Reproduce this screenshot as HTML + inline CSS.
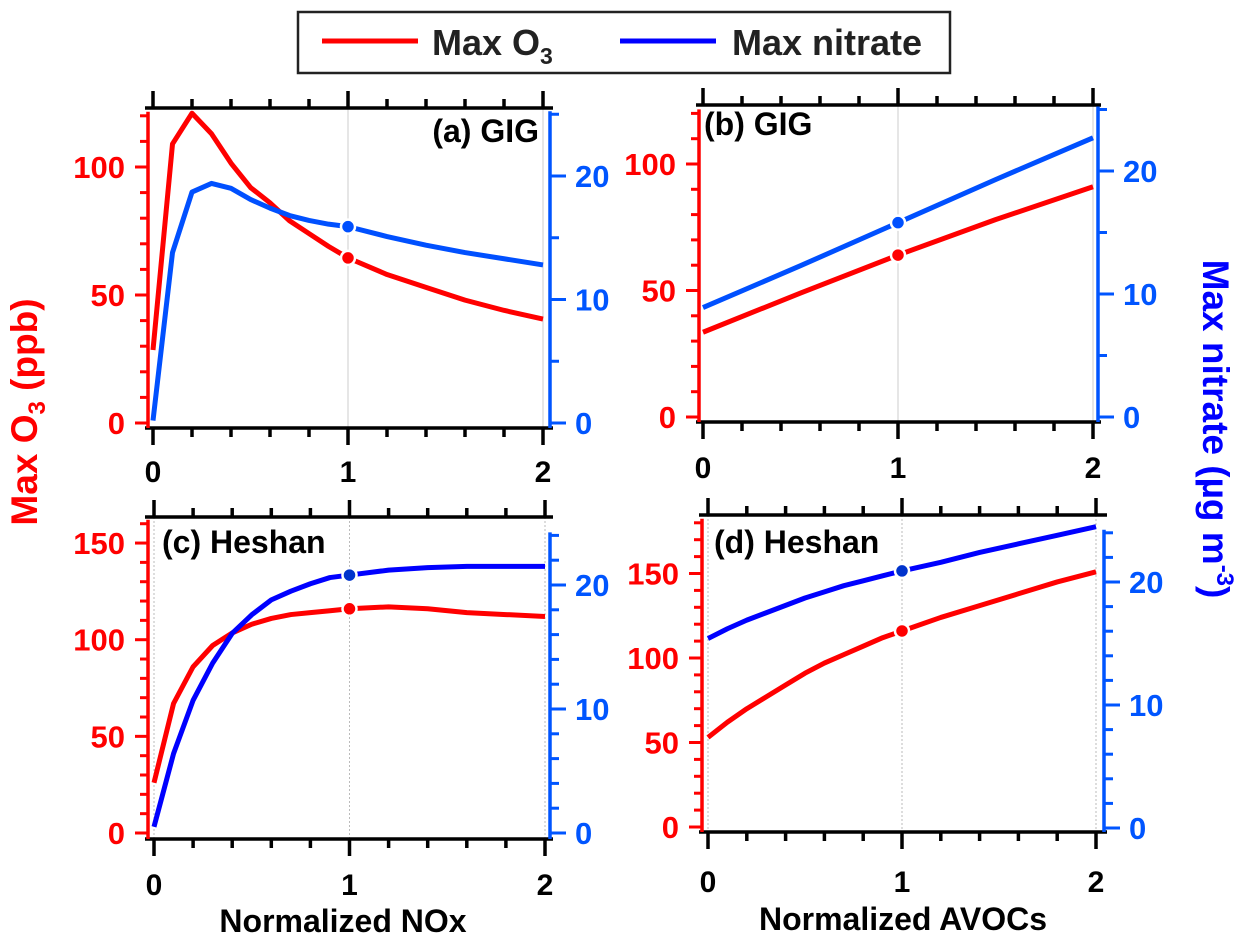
<!DOCTYPE html>
<html><head><meta charset="utf-8"><style>
html,body{margin:0;padding:0;background:#fff;}
svg{display:block;font-family:"Liberation Sans",Arial,sans-serif;font-weight:bold;}
</style></head><body>
<svg id="chart" width="1248" height="943" viewBox="0 0 1248 943" xmlns="http://www.w3.org/2000/svg">
<g>
<rect x="298" y="12" width="652" height="61" fill="#fff" stroke="#222" stroke-width="2.5"/>
<line x1="322" y1="41" x2="418" y2="41" stroke="#ff0000" stroke-width="5"/>
<text x="432" y="55" font-size="36" fill="#222">Max O<tspan font-size="23" dy="9">3</tspan></text>
<line x1="620" y1="41" x2="716" y2="41" stroke="#0000ff" stroke-width="5"/>
<text x="732" y="55" font-size="36" fill="#222">Max nitrate</text>
</g>
<text transform="translate(37,412) rotate(-90)" text-anchor="middle" font-size="37" fill="#ff0000">Max O<tspan font-size="24" dy="8">3</tspan><tspan dy="-8"> (ppb)</tspan></text>
<text transform="translate(1203,429) rotate(90)" text-anchor="middle" font-size="37" fill="#0000ff">Max nitrate (µg m<tspan font-size="24" dy="-14">-3</tspan><tspan dy="14">)</tspan></text>
<text x="343" y="932" text-anchor="middle" font-size="32" fill="#000">Normalized NOx</text>
<text x="903" y="930" text-anchor="middle" font-size="32" fill="#000">Normalized AVOCs</text>
</svg>
<script>
const xA = [0,0.1,0.2,0.3,0.4,0.5,0.6,0.7,0.8,0.9,1.0,1.2,1.4,1.6,1.8,2.0];
const o3A = [28.5,109,121,113,101.5,92,86,79,74,69,64.5,58,53,48,44,40.6];
const no3A = [0.2,13.8,18.7,19.4,19.0,18.1,17.4,16.8,16.4,16.1,15.9,15.1,14.4,13.8,13.3,12.8];
const xB = [0,0.5,1.0,1.5,2.0];
const o3B = [33.5,49,64,78,91];
const no3B = [8.9,12.3,15.8,19.3,22.7];
const xC = [0,0.1,0.2,0.3,0.4,0.5,0.6,0.7,0.8,0.9,1.0,1.2,1.4,1.6,1.8,2.0];
const o3C = [26,67,86,97,103.5,108,111,113,114,115,116,117,116,114,113,112];
const no3C = [0.5,6.4,10.7,13.7,16.1,17.6,18.8,19.5,20.1,20.6,20.8,21.2,21.4,21.5,21.5,21.5];
const xD = [0,0.1,0.2,0.3,0.4,0.5,0.6,0.7,0.8,0.9,1.0,1.2,1.4,1.6,1.8,2.0];
const o3D = [53,62,70,77,84,91,97,102,107,112,116,124,131,138,145,151];
const no3D = [15.4,16.2,16.9,17.5,18.1,18.7,19.2,19.7,20.1,20.5,20.9,21.6,22.4,23.1,23.8,24.5];
const xTickLabels = ["0","1","2"];
const leftTickLabelsAB = [0,50,100];
const leftTickLabelsCD = [0,50,100,150];
const rightTickLabels = [0,10,20];
const panelTitles = ["(a) GIG","(b) GIG","(c) Heshan","(d) Heshan"];

const NS="http://www.w3.org/2000/svg";
const svg=document.getElementById('chart');
function mk(tag,attrs,parent){const e=document.createElementNS(NS,tag);for(const k in attrs)e.setAttribute(k,attrs[k]);(parent||svg).appendChild(e);return e;}

const panels=[
 {L:148,R:550,T:108,B:428,x0:153,x2:543,ly0:423,lk:2.56,lmax:120,lstep:10,ry0:423,rk:12.35,rmax:25,rstep:5,xs:xA,o3:o3A,no3:no3A,labels:leftTickLabelsAB,title:0,tx:539,ty:142,anchor:'end',blue:'#0050ff',mblue:'#0050ff',grid:'solid',xl:482},
 {L:699,R:1098,T:105,B:422,x0:703,x2:1093,ly0:417,lk:2.53,lmax:120,lstep:10,ry0:417,rk:12.3,rmax:25,rstep:5,xs:xB,o3:o3B,no3:no3B,labels:leftTickLabelsAB,title:1,tx:704,ty:135,anchor:'start',blue:'#0050ff',mblue:'#0050ff',grid:'solid',xl:478},
 {L:148,R:550,T:517,B:839,x0:154,x2:545,ly0:833,lk:1.933,lmax:160,lstep:10,ry0:833,rk:12.4,rmax:24,rstep:2,xs:xC,o3:o3C,no3:no3C,labels:leftTickLabelsCD,title:2,tx:162,ty:553,anchor:'start',blue:'#0000ff',mblue:'#0033cc',grid:'dot',xl:895},
 {L:702,R:1104,T:515,B:832,x0:708,x2:1096,ly0:827,lk:1.69,lmax:180,lstep:10,ry0:828,rk:12.3,rmax:24,rstep:2,xs:xD,o3:o3D,no3:no3D,labels:leftTickLabelsCD,title:3,tx:714,ty:553,anchor:'start',blue:'#0000ff',mblue:'#0033cc',grid:'dot',xl:892}
];

panels.forEach((p,pi)=>{
 const g=mk('g',{});
 
 
 const X=v=>p.x0+(p.x2-p.x0)*v/2;
 const YL=v=>p.ly0-v*p.lk;
 const YR=v=>p.ry0-v*p.rk;
 const gx = p.grid==='dot'?[0,1,2]:[1,2];
 gx.forEach(v=>{const l=mk('line',{x1:X(v),x2:X(v),y1:p.T,y2:p.B,stroke:p.grid==='dot'?'#bbb':'#ccc','stroke-width':1,'stroke-dasharray':p.grid==='dot'?'2,2':'none'},g);
  
  });
 [p.T,p.B].forEach((y,i)=>{const l=mk('line',{x1:p.L-3,x2:p.R+3,y1:y,y2:y,stroke:'#000','stroke-width':3.5},g);
  
  });
 for(let i=0;i<=10;i++){const v=i*0.2;const major=(i%5===0);const len=major?17:9;
  mk('line',{x1:X(v),x2:X(v),y1:p.B,y2:p.B+len,stroke:'#000','stroke-width':3.5},g);
  mk('line',{x1:X(v),x2:X(v),y1:p.T,y2:p.T-len,stroke:'#000','stroke-width':3.5},g);}
 xTickLabels.forEach((t,i)=>{const e=mk('text',{x:X(i),y:p.xl,'text-anchor':'middle','font-size':30,fill:'#000'},g);e.textContent=t;
  
  });
 const la=mk('line',{x1:p.L,x2:p.L,y1:YL(p.lmax)-4,y2:p.B,stroke:'#ff0000','stroke-width':3.5},g);
 
 
 for(let v=0;v<=p.lmax;v+=p.lstep){const major=v%50===0;
  mk('line',{x1:p.L,x2:p.L-(major?13:8),y1:YL(v),y2:YL(v),stroke:'#ff0000','stroke-width':3},g);}
 p.labels.forEach(v=>{const e=mk('text',{x:p.L-23,y:YL(v)+11,'text-anchor':'end','font-size':31,fill:'#ff0000'},g);e.textContent=v;
  
  });
 const ra=mk('line',{x1:p.R,x2:p.R,y1:YR(p.rmax)-3,y2:p.B,stroke:'#0055ff','stroke-width':3.5},g);
 
 
 for(let v=0;v<=p.rmax+0.001;v+=p.rstep){const major=v%10===0;
  mk('line',{x1:p.R,x2:p.R+(major?16:9),y1:YR(v),y2:YR(v),stroke:'#0055ff','stroke-width':3},g);}
 rightTickLabels.forEach(v=>{const e=mk('text',{x:p.R+25,y:YR(v)+11,'text-anchor':'start','font-size':31,fill:'#0055ff'},g);e.textContent=v;
  
  });
 const rp=mk('polyline',{points:p.xs.map((x,i)=>X(x)+','+YL(p.o3[i])).join(' '),fill:'none',stroke:'#ff0000','stroke-width':5,'stroke-linejoin':'round'},g);
 
 
 const bp=mk('polyline',{points:p.xs.map((x,i)=>X(x)+','+YR(p.no3[i])).join(' '),fill:'none',stroke:p.blue,'stroke-width':5,'stroke-linejoin':'round'},g);
 
 
 const i1=p.xs.indexOf(1);
 const m1=mk('circle',{cx:X(1),cy:YL(p.o3[i1]),r:7,fill:'#ff0000',stroke:'#fff','stroke-width':2.5},g);
 
 
 const m2=mk('circle',{cx:X(1),cy:YR(p.no3[i1]),r:7,fill:p.mblue,stroke:'#fff','stroke-width':2.5},g);
 
 
 const t=mk('text',{x:p.tx,y:p.ty,'text-anchor':p.anchor,'font-size':32,fill:'#000'},g);
 t.textContent=panelTitles[p.title];
 
 
});
</script>
</body></html>
